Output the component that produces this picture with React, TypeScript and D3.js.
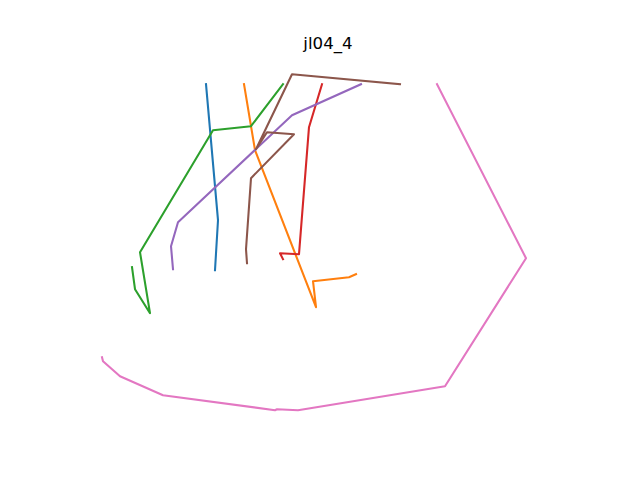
import React, { useEffect, useRef } from 'react';
import * as d3 from 'd3';

type Pt = [number, number];

const title = 'jl04_4';

// traces (x right, y up)
const blueTrace: Pt[] = [[126, 343], [138, 207], [135, 157]];
const orangeTrace: Pt[] = [[164, 343], [175, 277], [236, 120], [233, 146], [269, 150], [276, 153]];
const greenTrace: Pt[] = [[203, 343], [171, 301], [133, 297], [60, 175], [70, 114], [55, 138], [52, 160]];
const redTrace: Pt[] = [[242, 343], [229, 300], [219, 173], [200, 174], [203, 168]];
const purpleTrace: Pt[] = [[281, 343], [212, 312], [98, 205], [91, 181], [93, 158]];
const brownTrace: Pt[] = [[320, 343], [212, 353], [176, 278], [187, 295], [214, 293], [171, 249], [166, 178], [167, 164]];
const pinkTrace: Pt[] = [[357, 343], [446, 169], [365, 41], [218, 17], [197, 18], [195, 17], [83, 32], [40, 51], [23, 66], [22, 70]];

const series = [
  { name: 'blue', color: '#1f77b4', pts: blueTrace },
  { name: 'orange', color: '#ff7f0e', pts: orangeTrace },
  { name: 'green', color: '#2ca02c', pts: greenTrace },
  { name: 'red', color: '#d62728', pts: redTrace },
  { name: 'purple', color: '#9467bd', pts: purpleTrace },
  { name: 'brown', color: '#8c564b', pts: brownTrace },
  { name: 'pink', color: '#e377c2', pts: pinkTrace },
];

export default function App() {
  const svgRef = useRef<SVGSVGElement>(null);

  useEffect(() => {
    if (!svgRef.current) return;
    const width = 640;
    const height = 480;
    const margin = { top: 57.6, right: 64, bottom: 52.8, left: 80 };
    const w = width - margin.left - margin.right;
    const h = height - margin.top - margin.bottom;

    const svg = d3.select(svgRef.current);
    svg.selectAll('*').remove();
    svg.attr('width', width).attr('height', height);

    svg.append('rect').attr('width', width).attr('height', height).attr('fill', '#fff');

    const x = d3.scaleLinear().domain([0, w]).range([margin.left, margin.left + w]);
    const y = d3.scaleLinear().domain([0, h]).range([margin.top + h, margin.top]);

    const line = d3
      .line<Pt>()
      .x((d) => x(d[0]))
      .y((d) => y(d[1]));

    svg
      .selectAll('.trace')
      .data(series)
      .enter()
      .append('path')
      .attr('class', 'trace')
      .attr('d', (d) => line(d.pts))
      .attr('fill', 'none')
      .attr('stroke', (d) => d.color)
      .attr('stroke-width', 2.08)
      .attr('stroke-linejoin', 'round')
      .attr('stroke-linecap', 'square');

    svg
      .append('text')
      .attr('x', margin.left + w / 2)
      .attr('y', margin.top - 8.3)
      .attr('text-anchor', 'middle')
      .attr('font-family', 'DejaVu Sans')
      .attr('font-size', 16.67)
      .attr('fill', '#000')
      .text(title);
  }, []);

  return <svg ref={svgRef} style={{ position: 'absolute', left: 0, top: 0 }} />;
}
